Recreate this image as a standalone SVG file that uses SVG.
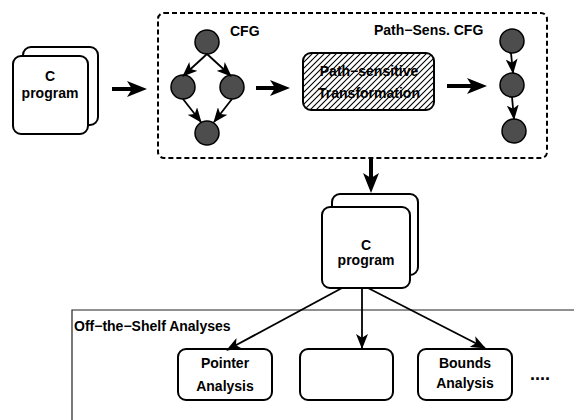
<svg xmlns="http://www.w3.org/2000/svg" width="574" height="420" viewBox="0 0 574 420">
  <style>
    text { font-family: "Liberation Sans", Arial, sans-serif; font-weight: bold; font-size: 14px; fill: #000; }
    .mid { text-anchor: middle; }
    .card { fill: #fff; stroke: #000; stroke-width: 2; }
    .box { fill: #fff; stroke: #000; stroke-width: 2; }
    .node { fill: #4d4d4d; stroke: #000; stroke-width: 1.5; }
    .thick { stroke: #000; stroke-width: 4; fill: none; }
    .thin { stroke: #000; stroke-width: 1.8; fill: none; }
    .frame { fill: none; stroke: #000; stroke-width: 2; stroke-dasharray: 5 3; }
    .shelf { fill: none; stroke: #222; stroke-width: 1.2; }
  </style>
  <defs>
    <marker id="bigHead" viewBox="0 0 20 16" refX="5" refY="8" markerWidth="20" markerHeight="16" markerUnits="userSpaceOnUse" orient="auto">
      <path d="M0,0 L20,8 L0,16 L5,8 Z" fill="#000"/>
    </marker>
    <marker id="smallHead" viewBox="0 0 15 12" refX="14" refY="6" markerWidth="15" markerHeight="12" markerUnits="userSpaceOnUse" orient="auto">
      <path d="M0,0 L15,6 L0,12 L3.8,6 Z" fill="#000"/>
    </marker>
    <pattern id="hatch" patternUnits="userSpaceOnUse" width="6" height="6">
      <path d="M-1,7 L7,-1 M-1,1 L1,-1 M5,7 L7,5" stroke="#000" stroke-width="1.1"/>
    </pattern>
  </defs>

  <!-- pipeline frame -->
  <rect id="pipeline" class="frame" x="158" y="13" width="389" height="145" rx="6"/>

  <!-- analyses container, runs off the page edge -->
  <g id="analyses">
    <path class="shelf" d="M72,425 L72,310 L580,310"/>
    <text x="74" y="331">Off−the−Shelf Analyses</text>
  </g>

  <!-- input program -->
  <g id="input-program">
    <rect class="card" x="23" y="47" width="75" height="78" rx="8"/>
    <rect class="card" x="13" y="56" width="75" height="78" rx="8"/>
    <text class="mid" x="50" y="81">C</text>
    <text class="mid" x="50" y="98">program</text>
  </g>

  <!-- control-flow graph -->
  <g id="cfg">
    <text x="230" y="36">CFG</text>
    <circle class="node" cx="207" cy="42" r="12"/>
    <circle class="node" cx="183" cy="87" r="12"/>
    <circle class="node" cx="232" cy="87" r="12"/>
    <circle class="node" cx="207" cy="133" r="12"/>
  </g>

  <!-- transformation step -->
  <g id="transformation">
    <rect class="box" x="303" y="53" width="131" height="57" rx="8" style="fill:url(#hatch)"/>
    <text class="mid" x="369" y="76">Path−sensitive</text>
    <text class="mid" x="369" y="98">Transformation</text>
  </g>

  <!-- path-sensitive CFG -->
  <g id="ps-cfg">
    <text x="374" y="35">Path−Sens. CFG</text>
    <circle class="node" cx="512" cy="41" r="12"/>
    <circle class="node" cx="512" cy="85" r="12"/>
    <circle class="node" cx="514" cy="131" r="12"/>
  </g>

  <!-- transformed program -->
  <g id="output-program">
    <rect class="card" x="332" y="194" width="86" height="81" rx="8"/>
    <rect class="card" x="322" y="207" width="88" height="81" rx="8"/>
    <text class="mid" x="366" y="250">C</text>
    <text class="mid" x="366" y="265">program</text>
  </g>

  <!-- analysis clients -->
  <g id="pointer-analysis">
    <rect class="box" x="178" y="349" width="94" height="51" rx="8"/>
    <text class="mid" x="225" y="368">Pointer</text>
    <text class="mid" x="225" y="391">Analysis</text>
  </g>
  <g id="blank-analysis">
    <rect class="box" x="300" y="349" width="93" height="51" rx="8"/>
  </g>
  <g id="bounds-analysis">
    <rect class="box" x="418" y="349" width="94" height="51" rx="8"/>
    <text class="mid" x="465" y="368">Bounds</text>
    <text class="mid" x="465" y="388">Analysis</text>
  </g>
  <g id="more">
    <text class="mid" x="540" y="380" style="font-size:18px">....</text>
  </g>

  <!-- connectors -->
  <g id="connectors">
    <line class="thick" x1="112" y1="89" x2="132" y2="89" marker-end="url(#bigHead)"/>
    <line class="thick" x1="256" y1="88" x2="275" y2="88" marker-end="url(#bigHead)"/>
    <line class="thick" x1="447" y1="86" x2="472" y2="86" marker-end="url(#bigHead)"/>
    <line class="thick" x1="371" y1="158" x2="371" y2="178" marker-end="url(#bigHead)"/>

    <line class="thin" x1="207" y1="54" x2="183" y2="76" marker-end="url(#smallHead)"/>
    <line class="thin" x1="207" y1="54" x2="231" y2="76" marker-end="url(#smallHead)"/>
    <line class="thin" x1="183" y1="99" x2="201" y2="122" marker-end="url(#smallHead)"/>
    <line class="thin" x1="232" y1="99" x2="214" y2="122" marker-end="url(#smallHead)"/>

    <line class="thin" x1="511" y1="53" x2="513" y2="73" marker-end="url(#smallHead)"/>
    <line class="thin" x1="512" y1="97" x2="514" y2="119" marker-end="url(#smallHead)"/>

    <line class="thin" x1="342" y1="288" x2="227" y2="350" marker-end="url(#smallHead)"/>
    <line class="thin" x1="362" y1="288" x2="362" y2="348" marker-end="url(#smallHead)"/>
    <line class="thin" x1="368" y1="288" x2="485" y2="348" marker-end="url(#smallHead)"/>
  </g>
</svg>
